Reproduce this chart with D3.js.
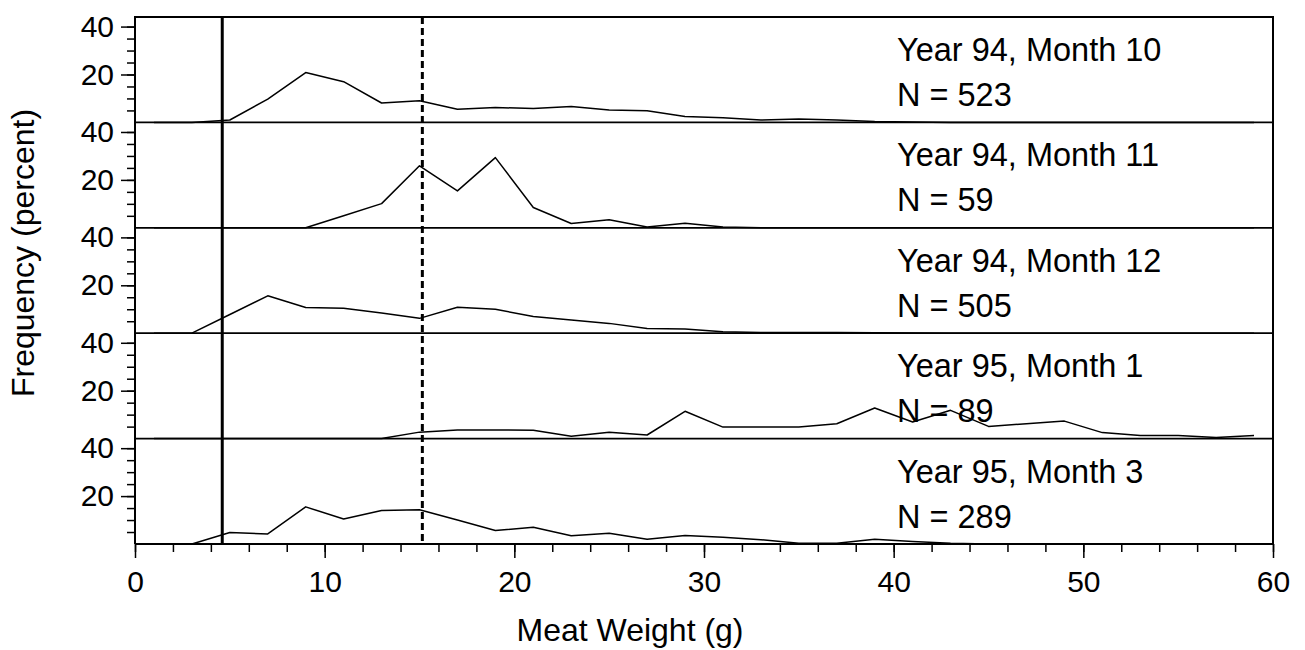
<!DOCTYPE html>
<html>
<head>
<meta charset="utf-8">
<script src="https://cdn.jsdelivr.net/npm/d3@7"></script>
<style>
body { margin: 0; background: #fff; }
text { font-family: "Liberation Sans", Arial, Helvetica, sans-serif; fill: #000; }
</style>
</head>
<body>
<svg id="chart" width="1305" height="650"></svg>
<script>
// bin midpoints (g)
const weights = [1, 3, 5, 7, 9, 11, 13, 15, 17, 19, 21, 23, 25, 27, 29, 31, 33, 35, 37, 39, 41, 43, 45, 47, 49, 51, 53, 55, 57, 59];

const panelTitles = ["Year 94, Month 10", "Year 94, Month 11", "Year 94, Month 12", "Year 95, Month 1", "Year 95, Month 3"];
const panelN = [523, 59, 505, 89, 289];

// frequency (percent) per bin
const freqOct94 = [0, 0, 1.0, 9.7, 20.8, 17.0, 8.1, 9.0, 5.5, 6.2, 5.8, 6.6, 5.2, 4.9, 2.5, 1.9, 1.0, 1.4, 1.0, 0.4, 0.2, 0, 0, 0, 0, 0, 0, 0, 0, 0];
const freqNov94 = [0, 0, 0, 0, 0, 5.0, 10.1, 25.9, 15.4, 29.3, 8.5, 1.8, 3.4, 0.3, 1.9, 0.3, 0, 0, 0, 0, 0, 0, 0, 0, 0, 0, 0, 0, 0, 0];
const freqDec94 = [0, 0, 7.8, 15.6, 10.7, 10.4, 8.4, 6.2, 10.8, 10.0, 7.0, 5.5, 4.1, 2.0, 1.8, 0.6, 0.3, 0.3, 0.3, 0.2, 0.1, 0, 0, 0, 0, 0, 0, 0, 0, 0];
const freqJan95 = [0, 0, 0, 0, 0, 0, 0, 2.7, 3.6, 3.6, 3.5, 1.0, 2.7, 1.5, 11.4, 4.8, 4.8, 4.8, 6.2, 12.8, 6.9, 11.8, 5.1, 6.2, 7.3, 2.5, 1.3, 1.3, 0.5, 1.3];
const freqMar95 = [0, 0, 4.8, 4.2, 15.5, 10.4, 14.0, 14.3, 10.0, 5.6, 7.0, 3.4, 4.5, 2.0, 3.5, 2.8, 1.8, 0.3, 0.3, 2.0, 1.0, 0.3, 0, 0, 0, 0, 0, 0, 0, 0];
const panelSeries = [freqOct94, freqNov94, freqDec94, freqJan95, freqMar95];

// reference weights (solid, dashed)
const refWeights = [4.6, 15.15];

const xTicks = [0, 10, 20, 30, 40, 50, 60];
const yTickLabels = [20, 40];

const margin = {top: 17, right: 32, bottom: 106, left: 135};
const width = 1305 - margin.left - margin.right;
const height = 650 - margin.top - margin.bottom;

const svg = d3.select("#chart");
svg.append("rect").attr("width", 1305).attr("height", 650).attr("fill", "#fff");
const g = svg.append("g").attr("transform", "translate(" + margin.left + "," + margin.top + ")");

const x = d3.scaleLinear().domain([0, 60]).range([0, width]);
const panel = d3.scaleBand().domain(d3.range(panelSeries.length)).range([0, height]);
const y = d3.scaleLinear().domain([0, 44]).range([panel.bandwidth(), 0]);

const line = d3.line().x((d, i) => x(weights[i])).y(d => y(d));

panelSeries.forEach(function(series, i) {
    const p = g.append("g").attr("transform", "translate(0," + panel(i) + ")");

    p.append("path").datum(series)
        .attr("fill", "none").attr("stroke", "#000").attr("stroke-width", 1.5)
        .attr("stroke-linejoin", "round")
        .attr("d", line);

    p.append("line")
        .attr("x1", 0).attr("x2", width).attr("y1", y(0)).attr("y2", y(0))
        .attr("stroke", "#000").attr("stroke-width", 1.8);

    // minor ticks
    const minor = p.append("g").call(d3.axisLeft(y).tickValues(d3.range(5, 41, 5)).tickSize(8).tickFormat(""));
    // labelled ticks
    const major = p.append("g").call(d3.axisLeft(y).tickValues(yTickLabels).tickSize(14).tickPadding(7));
    [minor, major].forEach(function(a) {
        a.select(".domain").remove();
        a.selectAll("line").attr("stroke", "#000").attr("stroke-width", 1.5);
    });
    major.selectAll("text").style("font-size", "30px").style("font-family", null);

    const lab = p.append("text").attr("x", 897 - margin.left).style("font-size", "32.5px");
    lab.append("tspan").attr("x", 897 - margin.left).attr("y", 44).text(panelTitles[i]);
    lab.append("tspan").attr("x", 897 - margin.left).attr("y", 89).text("N = " + panelN[i]);
});

// frame
g.append("path")
    .attr("d", "M0," + height + "V0H" + width + "V" + height)
    .attr("fill", "none").attr("stroke", "#000").attr("stroke-width", 2);

// reference lines
g.append("line")
    .attr("x1", x(refWeights[0])).attr("x2", x(refWeights[0]))
    .attr("y1", 0).attr("y2", height)
    .attr("stroke", "#000").attr("stroke-width", 3);
g.append("line")
    .attr("x1", x(refWeights[1])).attr("x2", x(refWeights[1]))
    .attr("y1", 0).attr("y2", height)
    .attr("stroke", "#000").attr("stroke-width", 3).attr("stroke-dasharray", "7,4");

// x axis
const xMinor = g.append("g").attr("transform", "translate(0," + height + ")")
    .call(d3.axisBottom(x).tickValues(d3.range(0, 61, 2)).tickSize(8).tickFormat(""));
const xMajor = g.append("g").attr("transform", "translate(0," + height + ")")
    .call(d3.axisBottom(x).tickValues(xTicks).tickSize(14).tickPadding(13));
[xMinor, xMajor].forEach(function(a) {
    a.select(".domain").remove();
    a.selectAll("line").attr("stroke", "#000").attr("stroke-width", 1.5);
});
xMajor.selectAll("text").style("font-size", "30px").style("font-family", null);

// axis titles
svg.append("text")
    .attr("x", 630).attr("y", 641)
    .attr("text-anchor", "middle").style("font-size", "32px")
    .text("Meat Weight (g)");
svg.append("text")
    .attr("transform", "translate(34,253) rotate(-90)")
    .attr("text-anchor", "middle").style("font-size", "32px")
    .text("Frequency (percent)");
</script>
</body>
</html>
